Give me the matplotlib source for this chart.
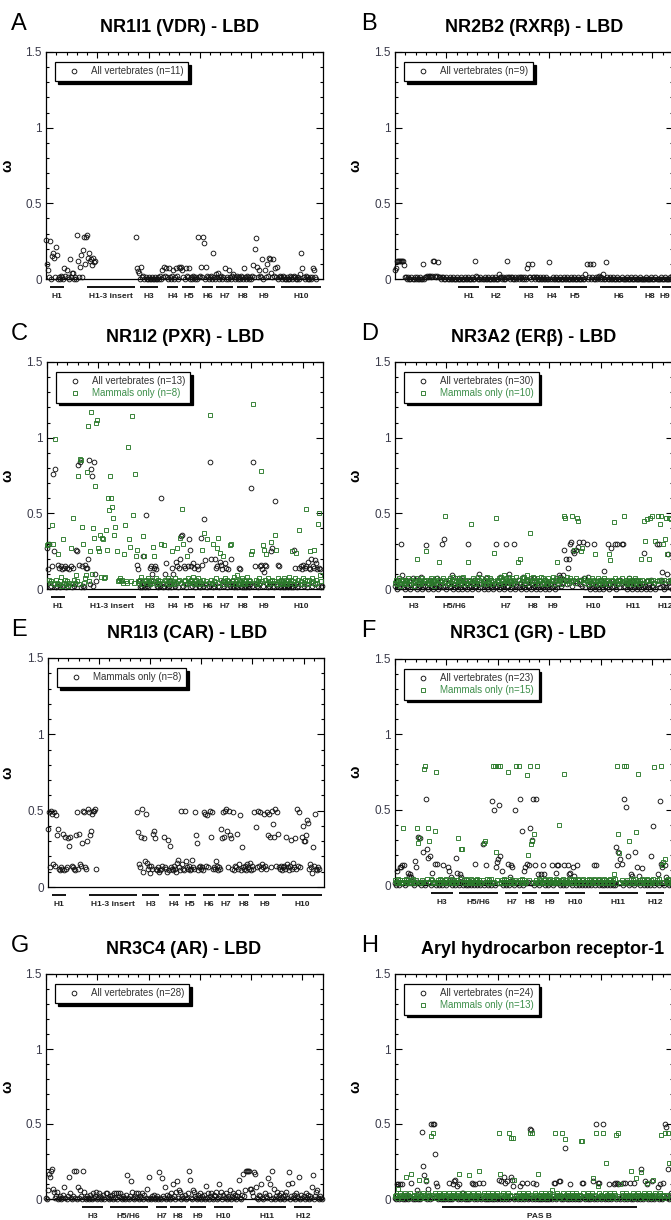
import numpy as np
import matplotlib
matplotlib.use('Agg')
import matplotlib.pyplot as plt
from matplotlib.ticker import MultipleLocator

plt.rcParams['font.family'] = ['Liberation Sans', 'DejaVu Sans']

_ = None  # residue without estimate

# ---------------- data: omega (x100) per residue position ----------------
vdr_all = [
 26,10,6,1,25,0,15,17,14,1, 21,16,0,1,0,2,1,0,7,2, 6,1,0,13,1,4,4,0,1,0,
 29,12,1,8,16,1,19,28,10,28, 29,14,17,12,13,9,14,11,12,_,
 _,_,_,_,_,_,_,_,_,_, _,_,_,_,_,_,_,_,_,_, _,_,_,_,_,_,_,_,_,_, _,_,_,_,_,_,_,_,
 28,7,5,4,0,8,1,2,0,1,0,0,
 1,0,0,1,0,0,1,0,0,1, 0,2,0,6,1,8,2,7,1,0, 7,1,0,2,6,0,1,7,2,0,
 8,7,8,6,1,0,7,2,1,7, 0,1,0,2,1,0,1,0,28,1, 2,8,1,28,24,0,8,2,1,0,
 1,2,0,17,1,0,3,1,4,0, 1,2,0,1,7,0,1,0,6,1, 0,2,3,1,0,1,2,0,1,0,
 2,1,0,7,1,0,2,1,0,1, 0,2,9,1,20,27,8,1,6,2, 1,13,0,6,1,10,2,14,13,4,
 1,13,2,7,1,8,0,1,2,1, 0,2,1,0,0,1,0,0,2,1, 0,1,2,1,0,0,1,0,3,17,
 7,1,0,2,1,0,0,1,0,1, 7,6,1,0,_,_,_,_,_,_]

rxrb_all = [
 6,7,12,12,12,12,12,12,12,9, 1,1,0,1,0,0,1,0,0,1, 0,1,0,0,1,0,0,10,0,1,
 1,2,1,2,2,1,2,12,12,2, 1,2,11,1,1,0,1,1,0,0, 1,0,0,1,0,0,1,0,0,0,
 1,0,0,0,1,0,0,0,1,0, 0,1,0,0,0,1,0,0,12,2, 1,0,0,1,0,0,0,1,0,0,
 1,0,0,0,1,0,0,1,0,0, 0,3,1,1,0,1,0,0,1,12, 1,1,0,1,1,0,0,1,0,1,
 0,1,1,0,1,0,1,0,7,10, 1,1,0,10,1,1,0,1,1,0, 0,1,0,0,1,0,0,1,0,0,
 11,0,0,1,0,0,1,0,0,0, 1,0,0,0,1,0,0,1,0,0, 0,1,0,0,1,0,0,0,1,0,
 0,0,1,0,0,3,10,0,1,10, 0,1,10,0,0,1,0,1,2,0, 1,0,3,0,0,11,1,0,0,1,
 0,0,1,0,0,0,1,0,0,0, 1,0,0,0,0,1,0,0,0,1, 0,0,0,1,0,0,0,0,1,0,
 0,0,0,0,1,0,0,0,0,1, 0,0,0,1,0,0,0,0,1,0, 0,0,1,0,0,0,0,1,0,2]

pxr_all = [
 27,13,30,1,2,15,76,25,79,1, 2,16,14,1,15,13,2,14,15,1, 14,2,13,15,1,14,2,3,26,25,
 82,16,84,1,15,2,1,16,14,14, 20,85,3,79,75,2,84,10,5,_,
 _,_,_,_,_,_,_,_,_,_, _,_,_,_,_,_,_,_,_,_, _,_,_,_,_,_,_,_,_,_, _,_,_,_,_,_,_,_,
 16,13,5,1,2,1,22,3,1,49,2,1,
 3,14,15,10,5,14,15,13,2,1, 3,2,60,1,2,10,17,3,1,2, 5,1,14,10,3,2,18,15,1,14,
 20,35,36,2,15,14,1,3,15,33, 26,15,2,17,14,1,3,15,13,2, 1,34,16,2,46,19,3,1,2,84,
 20,3,1,2,20,14,15,2,1,18, 16,13,5,2,17,14,1,13,3,2, 20,5,2,1,3,2,1,3,14,13,
 2,1,3,1,2,1,3,2,1,3, 67,2,84,15,3,2,1,3,15,16, 13,2,11,16,15,3,1,2,3,25,
 27,2,1,58,3,2,16,15,1,2, 3,1,2,1,3,2,1,2,3,1, 2,1,26,14,3,1,2,14,15,13,
 16,2,14,15,1,18,14,13,20,2, 15,14,19,17,13,2,14,13,1,2]

pxr_mam = [
 29,30,6,4,5,42,30,3,99,6, 4,23,3,5,8,2,33,4,6,3, 5,2,4,27,3,47,6,4,9,5,
 75,3,86,85,41,30,4,7,9,77, 108,5,25,117,10,40,34,68,110,112, 27,25,36,8,34,33,7,8,39,26,
 60,52,75,60,54,47,36,41,25,5, 6,7,5,6,4,23,42,5,4,94, 33,28,5,114,49,4,76,22,26,5,
 4,6,8,3,35,22,5,6,4,7, 5,3,6,4,28,22,5,7,3,6, 4,5,30,3,29,6,5,4,7,3,
 6,4,25,5,3,7,4,27,5,6, 34,4,53,30,5,6,3,22,7,4, 5,6,4,8,3,5,6,4,7,3,
 5,4,26,6,37,3,5,33,4,115, 6,4,30,5,3,7,27,34,4,24, 6,3,22,5,7,4,6,3,5,29,
 30,4,6,8,3,5,9,4,6,3, 5,7,4,6,3,5,8,4,6,5, 23,25,122,4,6,3,5,7,4,78,
 5,29,26,6,23,4,7,3,5,31, 6,4,5,36,26,3,7,5,4,6, 3,5,7,4,6,3,5,8,4,6,
 25,5,3,7,24,4,6,39,5,3, 7,4,6,53,5,3,6,25,4,7, 5,26,3,6,4,43,50,9,5,_]

erb_all = [
 2,5,0,6,1,3,30,9,1,4, 0,6,2,1,5,0,3,7,1,2, 6,0,1,4,2,8,0,1,5,2,
 29,1,0,4,6,1,2,0,5,1, 3,7,0,2,1,5,30,1,33,2, 0,4,6,1,2,9,0,3,1,5,
 2,0,7,1,3,0,6,2,1,4, 0,30,1,5,2,0,3,6,1,2, 4,0,10,1,3,5,0,2,7,1,
 0,4,2,6,1,0,3,1,30,2, 5,0,8,1,3,2,0,4,30,1, 2,10,0,5,1,3,30,0,2,6,
 1,4,0,2,8,1,3,0,5,2, 1,6,0,3,1,7,2,0,4,1, 5,0,2,3,1,6,0,2,1,4,
 0,3,1,5,2,0,6,1,3,9, 8,2,4,9,26,6,20,3,14,20, 30,31,2,25,24,5,26,4,28,31,
 3,6,2,31,7,1,30,8,2,0, 4,1,3,30,0,2,5,1,0,3, 6,1,0,12,2,4,1,30,0,3,
 27,1,5,2,30,0,30,3,1,6, 30,30,2,1,4,0,3,7,1,2, 0,5,1,3,6,0,2,1,4,0,
 3,1,24,2,0,5,1,3,0,6, 2,1,4,0,30,3,30,1,6,11, 2,0,4,1,10,23,2,1,6,0]

erb_mam = [
 4,6,3,5,7,2,4,6,5,3, 6,4,5,7,3,5,6,4,2,5, 7,20,4,6,3,5,7,4,6,5,
 25,4,6,3,5,7,4,6,2,5, 7,4,6,18,5,3,6,7,4,48, 5,6,3,7,4,5,8,6,3,5,
 7,4,6,5,3,7,8,4,6,5, 3,18,6,4,43,5,7,3,6,4, 5,8,6,3,7,4,5,6,3,8,
 5,4,7,6,3,5,24,4,47,6, 5,7,3,8,6,4,9,5,7,6, 4,8,5,3,7,6,4,5,8,18,
 6,20,4,7,5,8,3,6,9,5, 4,37,7,5,8,6,3,5,7,4, 6,5,8,3,7,4,6,5,3,7,
 5,4,6,8,3,5,7,18,4,6, 5,7,3,6,48,47,5,8,6,4, 7,5,48,6,26,4,7,47,45,6,
 5,25,27,6,4,7,5,3,6,5, 4,7,5,6,23,3,5,7,4,6, 5,3,6,7,4,5,6,3,23,19,
 5,6,4,44,7,5,3,6,4,5, 7,5,48,4,6,3,5,7,4,6, 5,3,6,7,4,5,6,3,5,20,
 6,4,45,32,5,46,6,20,47,5, 48,6,4,32,5,48,6,43,48,5, 30,6,33,47,23,5,47,6,46,5]

car_mam = [
 38,49,13,50,48,15,49,14,47,34, 38,12,11,13,12,35,11,33,12,13, 32,27,33,14,13,12,11,34,49,12,
 35,15,14,29,50,49,13,12,30,51, 49,34,37,48,50,50,51,12,
 _,_,_,_,_,_,_,_,_,_, _,_,_,_,_,_,_,_,_,_, _,_,_,_,_,_,_,_,_,_, _,_,_,_,_,_,_,_,_,
 49,36,15,13,33,51,10,32,17,48,16,12,14,
 9,14,12,35,37,32,12,11,13,10, 11,12,14,33,13,12,10,31,11,27, 13,12,11,14,12,10,16,18,13,11,
 50,15,12,11,50,17,13,12,14,11, 12,18,13,12,49,34,29,11,13,14, 12,13,11,49,48,14,47,13,50,33,
 49,12,13,12,17,14,11,13,12,38, 32,49,33,50,51,37,13,50,34,32, 12,49,11,14,13,35,12,15,47,11,
 26,13,12,14,11,15,13,12,16,11, 14,12,49,39,13,50,14,49,12,15, 13,48,14,12,49,34,48,33,13,50,
 41,33,51,14,49,35,13,12,14,11, 13,14,12,33,15,13,11,14,31,12, 16,13,32,12,51,14,49,13,33,40,
 30,30,34,44,42,12,15,13,9,26, 14,48,12,11,13,12,_,_,_,_]

gr_all = [
 1,0,9,2,0,12,12,13,1,13, 0,2,1,8,6,7,5,1,0,16, 12,2,32,1,31,0,2,22,1,0,
 57,24,18,2,19,0,8,1,2,14, 0,14,1,0,2,1,0,13,2,1, 0,12,9,1,5,0,2,1,0,18,
 8,1,0,7,5,2,0,1,2,0, 1,0,2,1,0,1,2,0,14,1, 0,2,1,0,1,27,0,2,13,1,
 0,1,2,0,56,1,50,0,12,15, 17,53,19,1,9,0,2,1,0,1, 14,0,5,13,12,1,0,50,2,1,
 0,57,1,36,0,9,12,1,14,2, 13,38,1,30,57,0,13,57,1,7, 0,2,7,1,13,7,0,2,1,0,
 1,2,13,0,1,2,8,13,13,1, 0,2,1,0,13,1,0,2,13,7, 8,1,0,12,6,2,0,13,1,0,
 2,1,0,1,2,0,1,0,2,1, 0,1,2,13,0,13,1,2,0,1, 2,0,1,0,2,1,0,2,1,0,
 1,2,0,1,0,25,13,22,1,17, 14,0,57,1,52,2,19,0,1,7, 6,1,0,22,2,12,1,6,0,2,
 11,1,0,2,1,0,2,1,0,19, 1,39,0,2,1,7,0,56,14,12, 1,0,13,5,2,1,0,2,1,0]

gr_mam = [
 3,2,1,4,2,3,1,2,38,3, 2,4,1,3,2,1,3,4,2,1, 3,38,28,31,2,1,3,2,77,79,
 2,4,38,29,1,4,3,2,1,36, 75,2,3,1,4,2,3,1,2,3, 4,1,2,3,2,4,1,3,2,1,
 3,31,2,4,24,24,1,3,2,4, 1,3,2,1,4,2,3,1,2,3, 4,1,3,2,1,3,28,29,2,4,
 1,3,2,4,1,79,2,79,22,3, 79,1,79,2,3,1,4,2,3,1, 75,2,4,1,3,2,1,3,79,2,
 79,3,1,4,2,3,1,2,73,20, 3,79,27,29,2,34,1,3,79,2, 4,1,3,2,1,3,4,2,1,3,
 2,4,1,3,2,1,4,2,3,40, 1,3,2,4,74,1,3,2,1,4, 2,3,1,4,2,3,1,2,4,3,
 1,2,3,4,1,2,3,1,4,2, 3,1,2,4,3,1,2,3,4,1, 2,3,1,4,2,3,1,2,3,4,
 1,2,3,7,4,1,79,34,21,2, 3,1,79,2,79,3,1,29,2,4, 1,3,2,4,35,1,74,2,3,1,
 4,2,3,1,2,4,3,1,2,3, 1,4,78,2,3,1,4,2,79,13, 15,2,17,3,1,4,2,3,1,2]

ar_all = [
 1,0,6,17,15,19,20,7,5,1, 2,5,0,1,2,0,1,3,8,1, 0,2,15,4,1,0,2,19,1,19,
 0,8,1,6,2,0,19,5,1,0, 2,1,0,3,1,0,4,1,2,5, 0,1,4,2,0,1,3,0,4,4,
 1,0,2,1,3,0,4,1,4,0, 4,2,4,1,0,2,1,0,3,16, 1,0,2,12,5,1,0,2,4,1,
 4,0,2,1,4,0,3,1,7,0, 15,1,0,2,1,3,0,1,2,0, 18,1,0,14,2,1,8,0,3,1,
 2,0,4,1,10,2,0,5,12,1, 6,5,0,2,1,3,0,1,4,19, 13,1,0,6,5,2,1,0,3,1,
 4,0,2,1,3,0,9,1,4,0, 2,4,1,0,3,2,5,0,1,10, 2,5,0,3,1,4,0,2,1,6,
 0,2,4,1,3,0,2,5,13,1, 0,3,17,2,6,19,19,19,19,7, 7,5,2,18,17,8,1,0,3,2,
 10,1,0,4,2,1,14,3,10,0, 19,1,7,0,2,5,1,3,0,4, 1,2,0,3,5,1,10,18,0,2,
 11,1,3,0,4,2,1,15,0,3, 1,2,0,4,1,3,0,2,1,8, 16,0,2,5,6,1,0,2,1,0]

ahr_all = [
 1,0,10,10,0,10,1,10,0,1, 0,3,1,0,2,1,11,0,1,0, 1,6,0,1,0,2,45,22,16,1,
 12,0,7,2,0,50,1,50,50,30, 11,9,0,1,2,0,1,0,1,0, 1,0,11,0,1,0,10,12,13,1,
 9,0,10,1,0,4,4,1,0,2, 0,1,0,2,1,11,10,0,10,1, 0,2,11,1,0,11,1,0,2,0,
 1,0,2,1,0,1,0,2,1,0, 1,13,0,12,1,0,15,11,0,12, 1,0,2,15,13,9,0,1,2,0,
 1,9,0,11,1,0,2,1,11,0, 1,47,46,0,11,1,0,10,1,0, 2,0,1,0,1,2,0,1,0,2,
 0,1,0,2,11,11,0,1,2,12, 12,0,1,0,2,34,1,0,2,0, 10,1,0,2,1,0,1,2,0,1,
 0,2,11,11,1,0,2,0,1,0, 2,1,12,0,1,50,0,11,11,1, 0,2,50,1,0,2,1,0,10,1,
 0,2,1,10,11,0,11,10,1,0, 2,11,0,11,1,0,2,1,11,0, 1,0,11,2,1,0,1,2,0,20,
 1,0,2,12,1,10,0,2,1,0, 12,1,0,2,1,8,0,10,1,0, 11,2,50,48,1,20,0,2,4,1]

ahr_mam = [
 2,3,1,7,2,4,3,1,2,3, 4,15,2,3,1,4,17,2,3,1, 3,2,4,13,1,3,2,4,3,1,
 13,2,4,3,1,42,3,44,2,4, 1,3,2,4,3,1,2,3,4,1, 3,2,4,1,3,2,4,3,1,2,
 3,4,17,2,1,3,4,2,3,1, 2,4,16,3,1,2,4,3,1,2, 3,4,19,1,2,3,4,1,3,2,
 4,1,3,2,4,3,1,2,3,4, 2,44,17,3,1,4,2,3,1,2, 4,44,3,41,2,41,13,1,3,2,
 4,1,3,2,4,3,1,2,3,4, 2,44,3,44,1,2,4,3,1,17, 3,2,4,1,3,2,4,3,1,2,
 3,4,6,2,1,44,3,4,2,1, 3,2,44,4,1,40,3,2,4,1, 3,2,4,1,3,2,4,3,1,2,
 3,39,39,4,2,1,3,4,2,3, 1,4,14,2,3,44,1,9,4,2, 3,1,44,2,4,24,3,1,2,4,
 3,1,2,4,3,43,1,44,2,10, 4,3,1,2,4,3,1,2,3,19, 2,4,1,3,14,2,4,3,1,18,
 3,2,4,1,3,11,2,4,3,1, 2,13,3,4,1,2,3,4,43,2, 3,1,44,3,2,44,24,3,1,24]

# ---------------- secondary-structure annotations (residue positions) ----------------
lbd_helix_names = ['H1', 'H1-3 insert', 'H3', 'H4', 'H5', 'H6', 'H7', 'H8', 'H9', 'H10']
lbd_helix_start = [4, 40, 92, 118, 133, 152, 166, 186, 202, 229]
lbd_helix_end = [18, 87, 109, 129, 145, 163, 182, 197, 223, 268]

rxr_helix_names = ['H1', 'H2', 'H3', 'H4', 'H5', 'H6', 'H8', 'H9']
rxr_helix_start = [61, 87, 120, 144, 164, 199, 238, 259]
rxr_helix_end = [82, 108, 139, 160, 186, 235, 257, 270]

er_helix_names = ['H3', 'H5/H6', 'H7', 'H8', 'H9', 'H10', 'H11', 'H12']
er_helix_start = [8, 39, 102, 126, 146, 183, 212, 257]
er_helix_end = [29, 77, 114, 141, 161, 202, 250, 272]

gr_helix_names = ['H3', 'H5/H6', 'H7', 'H8', 'H9', 'H10', 'H11', 'H12']
gr_helix_start = [35, 62, 107, 123, 142, 165, 198, 244]
gr_helix_end = [56, 100, 119, 138, 159, 185, 236, 261]

ar_helix_names = ['H3', 'H5/H6', 'H7', 'H8', 'H9', 'H10', 'H11', 'H12']
ar_helix_start = [35, 62, 107, 121, 140, 164, 196, 242]
ar_helix_end = [56, 99, 118, 136, 156, 182, 234, 259]

ahr_domain_names = ['PAS B']
ahr_domain_start = [46]
ahr_domain_end = [235]

# ---------------- styling ----------------
W, H = 671, 1220
BLACK = '#111111'
GREEN = '#2b7a2b'
TXT_GREY = '#333333'
TXT_GREEN = '#3d8f4a'

panels = [
    dict(letter='A', title='NR1I1 (VDR) - LBD', box=(46, 52, 323, 279), tx=180,
         series=[(vdr_all, 'o', BLACK, 'All vertebrates (n=11)', TXT_GREY)],
         helix=(lbd_helix_names, lbd_helix_start, lbd_helix_end)),
    dict(letter='B', title='NR2B2 (RXR\u03b2) - LBD', box=(395, 52, 673, 279), tx=534,
         series=[(rxrb_all, 'o', BLACK, 'All vertebrates (n=9)', TXT_GREY)],
         helix=(rxr_helix_names, rxr_helix_start, rxr_helix_end)),
    dict(letter='C', title='NR1I2 (PXR) - LBD', box=(47, 362, 323, 589), tx=185,
         series=[(pxr_all, 'o', BLACK, 'All vertebrates (n=13)', TXT_GREY),
                 (pxr_mam, 's', GREEN, 'Mammals only (n=8)', TXT_GREEN)],
         helix=(lbd_helix_names, lbd_helix_start, lbd_helix_end)),
    dict(letter='D', title='NR3A2 (ER\u03b2) - LBD', box=(395, 362, 673, 589), tx=534,
         series=[(erb_all, 'o', BLACK, 'All vertebrates (n=30)', TXT_GREY),
                 (erb_mam, 's', GREEN, 'Mammals only (n=10)', TXT_GREEN)],
         helix=(er_helix_names, er_helix_start, er_helix_end)),
    dict(letter='E', title='NR1I3 (CAR) - LBD', box=(48, 658, 324, 887), tx=187,
         series=[(car_mam, 'o', BLACK, 'Mammals only (n=8)', TXT_GREY)],
         helix=(lbd_helix_names, lbd_helix_start, lbd_helix_end)),
    dict(letter='F', title='NR3C1 (GR) - LBD', box=(395, 659, 673, 885), tx=528,
         series=[(gr_all, 'o', BLACK, 'All vertebrates (n=23)', TXT_GREY),
                 (gr_mam, 's', GREEN, 'Mammals only (n=15)', TXT_GREEN)],
         helix=(gr_helix_names, gr_helix_start, gr_helix_end)),
    dict(letter='G', title='NR3C4 (AR) - LBD', box=(46, 974, 323, 1199), tx=184,
         series=[(ar_all, 'o', BLACK, 'All vertebrates (n=28)', TXT_GREY)],
         helix=(ar_helix_names, ar_helix_start, ar_helix_end)),
    dict(letter='H', title='Aryl hydrocarbon receptor-1', box=(395, 974, 673, 1199), tx=543,
         series=[(ahr_all, 'o', BLACK, 'All vertebrates (n=24)', TXT_GREY),
                 (ahr_mam, 's', GREEN, 'Mammals only (n=13)', TXT_GREEN)],
         helix=(ahr_domain_names, ahr_domain_start, ahr_domain_end)),
]

fig = plt.figure(figsize=(W / 100, H / 100), dpi=100)
fig.patch.set_facecolor('white')

for p in panels:
    l, t, r, b = p['box']
    ax = fig.add_axes([l / W, 1 - b / H, (r - l) / W, (b - t) / H])
    hpx = b - t
    wpx = r - l
    handles = []
    for vals, mk, col, lab, _tc in p['series']:
        y = np.array(vals, dtype=float) / 100.0
        x = np.arange(len(y))
        h, = ax.plot(x, y, linestyle='none', marker=mk, mfc='none', mec=col,
                     ms=3.4 if mk == 'o' else 3.2, mew=0.65, clip_on=False,
                     label=lab, zorder=3)
        handles.append(h)
    ax.set_xlim(0, 270)
    ax.set_ylim(0, 1.5)
    ax.yaxis.set_minor_locator(MultipleLocator(0.1))
    ax.xaxis.set_major_locator(MultipleLocator(50))
    ax.xaxis.set_minor_locator(MultipleLocator(10))
    ax.set_yticks([0, 0.5, 1, 1.5])
    ax.set_yticklabels(['0', '0.5', '1', '1.5'])
    ax.tick_params(axis='y', which='both', direction='in', left=True, right=True,
                   labelsize=8.5, labelcolor='#3a3a4a', pad=3, width=0.8)
    ax.tick_params(axis='y', which='major', length=5)
    ax.tick_params(axis='y', which='minor', length=2.5)
    ax.tick_params(axis='x', which='both', direction='in', top=True, bottom=False,
                   labelbottom=False, width=0.8)
    ax.tick_params(axis='x', which='major', length=4.5)
    ax.tick_params(axis='x', which='minor', length=2.5)
    for s in ax.spines.values():
        s.set_linewidth(0.9)
        s.set_color('black')
    ax.set_ylabel('\u03c9', fontsize=10.5, fontweight='bold')
    ylab_x = 14 if l < 300 else 362
    ax.yaxis.set_label_coords((ylab_x - l) / wpx, 0.5)

    leg = ax.legend(handles=handles, loc='upper left',
                    bbox_to_anchor=(9 / wpx, 1 - 10 / hpx), borderaxespad=0,
                    fontsize=7, handlelength=3.0, handletextpad=0.3,
                    borderpad=0.45, labelspacing=0.2, fancybox=False,
                    framealpha=1, edgecolor='black',
                    shadow={'color': 'black', 'alpha': 1})
    leg.get_frame().set_linewidth(0.9)
    for txt, ser in zip(leg.get_texts(), p['series']):
        txt.set_color(ser[4])

    names, starts, ends = p['helix']
    trans = ax.get_xaxis_transform()
    for nm, s0, e0 in zip(names, starts, ends):
        ax.plot([s0, e0], [-8 / hpx, -8 / hpx], color='black', lw=1.3,
                transform=trans, clip_on=False, solid_capstyle='butt')
        xc = min((s0 + e0) / 2, 262)
        ax.text(xc, -17 / hpx, nm, transform=trans, ha='center',
                va='center', fontsize=6, fontweight='bold', color='#222222')

    title_y = t - 25
    fig.text(p['tx'] / W, 1 - title_y / H, p['title'], ha='center', va='center',
             fontsize=13, fontweight='bold')
    letter_x = 11 if l < 300 else 361
    fig.text(letter_x / W, 1 - (t - 28) / H, p['letter'], ha='left', va='center',
             fontsize=17)

fig.savefig('out.png', dpi=100)
